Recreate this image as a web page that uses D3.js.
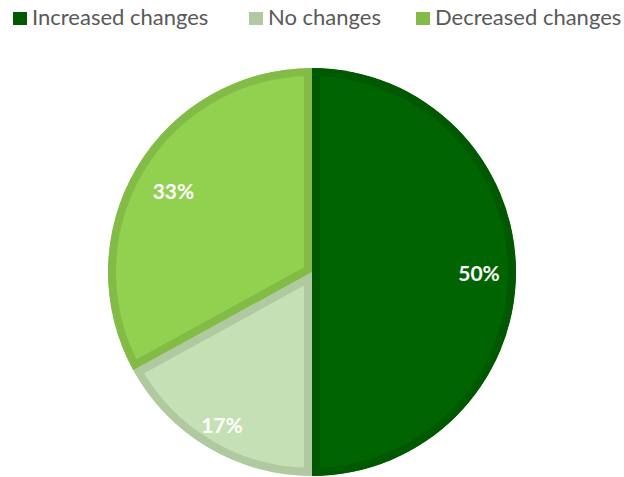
<!DOCTYPE html>
<html>
<head>
<meta charset="utf-8">
<script src="https://cdn.jsdelivr.net/npm/d3@7"></script>
<style>
  html, body { margin: 0; padding: 0; background: #ffffff; }
  svg { display: block; }
</style>
</head>
<body>
<svg id="chart" width="624" height="477"></svg>
<script>
// Share of responses by kind of change
const categories = ["Increased changes", "No changes", "Decreased changes"];
const values = [50, 17, 33];
const valueLabels = ["50%", "17%", "33%"];
const fillColors = ["#006400", "#c5e0b4", "#92d050"];
const edgeColors = ["#005900", "#b0c9a0", "#83bb47"];

const width = 624, height = 477;
const cx = 312, cy = 272, radius = 204;
// distance of each value label from the pie centre
const labelRadius = [167, 177, 161];

const svg = d3.select("#chart");

// Legend
const legendX = [13, 249, 416];
const legend = svg.append("g").attr("class", "legend");
categories.forEach((name, i) => {
  const g = legend.append("g").attr("transform", `translate(${legendX[i]},0)`);
  g.append("rect").attr("x", 0).attr("y", 12).attr("width", 14).attr("height", 13)
    .attr("fill", edgeColors[i]);
  g.append("text").attr("x", 19).attr("y", 25)
    .attr("font-family", "Lato, 'Open Sans', sans-serif")
    .attr("font-size", 22).attr("fill", "#595959")
    .text(name);
});

// Pie
const pie = d3.pie().sort(null).value(d => d);
const arcs = pie(values);
const arc = d3.arc().innerRadius(0).outerRadius(radius);

const defs = svg.append("defs");
const plot = svg.append("g").attr("transform", `translate(${cx},${cy})`);

arcs.forEach((a, i) => {
  const id = "slice-clip-" + i;
  // clip path lives in the slice's own (translated) coordinate space
  defs.append("clipPath").attr("id", id)
    .append("path").attr("d", arc(a));
  // inner edge band drawn by clipping a wide stroke to the slice itself
  plot.append("path")
    .attr("d", arc(a))
    .attr("fill", fillColors[i])
    .attr("stroke", edgeColors[i])
    .attr("stroke-width", 16)
    .attr("stroke-linejoin", "miter")
    .attr("clip-path", `url(#${id})`);
});

const labels = svg.append("g").attr("transform", `translate(${cx},${cy})`);
arcs.forEach((a, i) => {
  const r = labelRadius[i];
  const [x, y] = d3.arc().innerRadius(r).outerRadius(r).centroid(a);
  labels.append("text")
    .attr("x", x).attr("y", y)
    .attr("text-anchor", "middle")
    .attr("dominant-baseline", "central")
    .attr("font-family", "Lato, 'Open Sans', sans-serif")
    .attr("font-weight", "bold")
    .attr("font-size", 21)
    .attr("fill", "#ffffff")
    .text(valueLabels[i]);
});
</script>
</body>
</html>
